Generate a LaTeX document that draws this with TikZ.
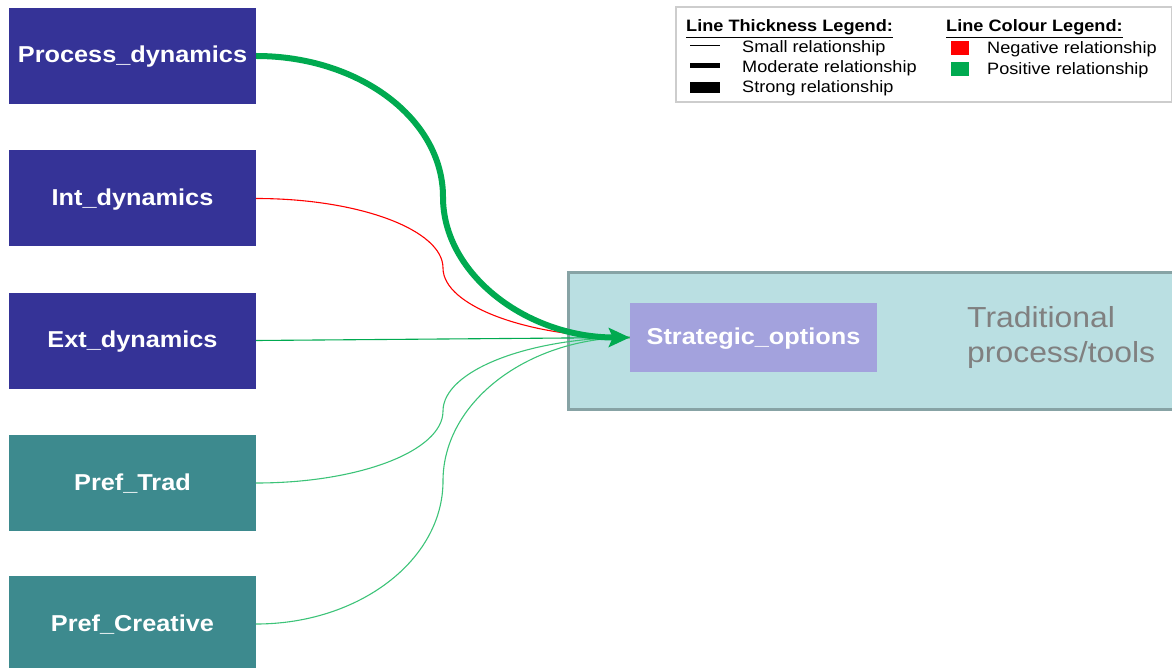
\documentclass[tikz,border=0pt]{standalone}
\usepackage{fontspec}
\setmainfont{Liberation Sans}[FakeStretch=1.1]
\usetikzlibrary{arrows.meta}

\definecolor{navybox}{RGB}{53,51,151}
\definecolor{tealbox}{RGB}{61,138,142}
\definecolor{lavbox}{RGB}{163,162,221}
\definecolor{panelfill}{RGB}{186,223,226}
\definecolor{paneledge}{RGB}{135,163,165}
\definecolor{posgreen}{RGB}{0,170,80}
\definecolor{lightgreen}{RGB}{60,195,120}
\definecolor{neg}{RGB}{255,0,0}
\definecolor{legendedge}{RGB}{205,205,205}
\definecolor{graytext}{RGB}{128,128,128}

\begin{document}
\begin{tikzpicture}[x=1pt,y=-1pt,
  boxfont/.style={font=\fontsize{23}{26}\selectfont\bfseries,text height=17pt,text depth=3pt},
  srcbox/.style={draw=none,minimum width=247pt,minimum height=96pt,inner sep=0pt,
    text=white,boxfont},
  dynbox/.style={srcbox,fill=navybox},
  prefbox/.style={srcbox,fill=tealbox},
  thin/.style={line width=1.1pt},
  strongline/.style={line width=6pt,posgreen},
  legtext/.style={anchor=base west,inner sep=0pt,font=\fontsize{16.5}{19}\selectfont},
  leghead/.style={anchor=base west,inner sep=0pt,font=\fontsize{16.5}{19}\selectfont\bfseries}
]
\useasboundingbox (0,0) rectangle (1172,668);
\clip (0,0) rectangle (1172,668);

% outcome panel
\node[draw=paneledge,line width=3pt,fill=panelfill,minimum width=640pt,minimum height=137pt,
  anchor=north west,inner sep=0pt] (panel) at (567,271) {};
\node[fill=lavbox,minimum width=247pt,minimum height=69pt,inner sep=0pt,text=white,
  boxfont] (so) at (753.5,337.5) {Strategic\_options};
\node[anchor=base west,inner sep=0pt,text=graytext,
  font=\fontsize{29}{35}\selectfont] (trad1) at (967,327) {Traditional};
\node[anchor=base west,inner sep=0pt,text=graytext,
  font=\fontsize{29}{35}\selectfont] (trad2) at (967,362) {process/tools};

% predictor boxes
\node[dynbox]  (pd) at (132.5,56)  {Process\_dynamics};
\node[dynbox]  (id) at (132.5,198.5) {Int\_dynamics};
\node[dynbox]  (ed) at (132.5,340.5) {Ext\_dynamics};
\node[prefbox] (pt) at (132.5,483) {Pref\_Trad};
\node[prefbox] (pc) at (132.5,624) {Pref\_Creative};

% bend points of the S-shaped connectors
\coordinate (m1) at (443,197);
\coordinate (m2) at (443,268);
\coordinate (m4) at (443,411);
\coordinate (m5) at (443,481);

% connectors
\draw[thin,neg] (id.east) .. controls +(103,0) and +(0,-38) .. (m2)
  .. controls +(0,38) and +(-102,0) .. (so.west);
\draw[thin,posgreen] (ed.east) -- (so.west);
\draw[thin,lightgreen] (pt.east) .. controls +(103,0) and +(0,40) .. (m4)
  .. controls +(0,-40) and +(-102,0) .. (so.west);
\draw[thin,lightgreen] (pc.east) .. controls +(103,0) and +(0,79) .. (m5)
  .. controls +(0,-79) and +(-102,0) .. (so.west);
\draw[strongline,-{Stealth[length=21pt,width=19pt,inset=4pt]}] (pd.east)
  .. controls +(103,0) and +(0,-78) .. (m1)
  .. controls +(0,78) and +(-102,0) .. (so.west);

% legend
\node[draw=legendedge,line width=2pt,minimum width=496pt,minimum height=95pt,
  anchor=north west,inner sep=0pt] (legend) at (675,6) {};
\node[leghead] (lth) at (686,32) {\underline{Line Thickness Legend:}};
\node[leghead] (lch) at (946,32) {\underline{Line Colour Legend:}};
\coordinate (s1a) at (690,46); \coordinate (s1b) at (720,46);
\coordinate (s2a) at (690,66); \coordinate (s2b) at (720,66);
\coordinate (s3a) at (690,87.5); \coordinate (s3b) at (720,87.5);
\draw[line width=1pt] (s1a) -- (s1b);
\draw[line width=5pt] (s2a) -- (s2b);
\draw[line width=11pt] (s3a) -- (s3b);
\node[legtext] (l1) at (742,53) {Small relationship};
\node[legtext] (l2) at (742,73) {Moderate relationship};
\node[legtext] (l3) at (742,93) {Strong relationship};
\node[fill=neg,minimum width=18pt,minimum height=14pt,inner sep=0pt] (negsq) at (960,48) {};
\node[fill=posgreen,minimum width=18pt,minimum height=14pt,inner sep=0pt] (possq) at (960,69) {};
\node[legtext] (l4) at (987,54) {Negative relationship};
\node[legtext] (l5) at (987,75) {Positive relationship};
\end{tikzpicture}
\end{document}
